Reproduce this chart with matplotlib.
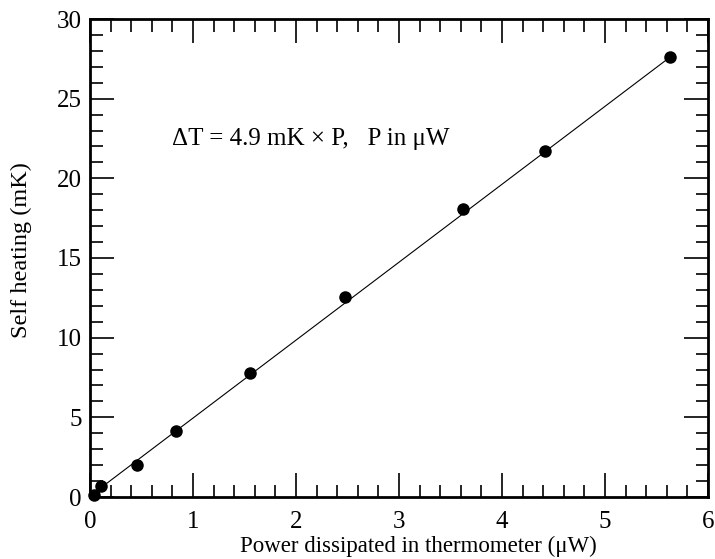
import matplotlib
matplotlib.use("Agg")
import matplotlib.pyplot as plt
from matplotlib.ticker import MultipleLocator

power = [0.04, 0.11, 0.456, 0.838, 1.553, 2.48, 3.62, 4.42, 5.63]
heating = [0.13, 0.69, 2.03, 4.16, 7.80, 12.54, 18.08, 21.7, 27.6]
fit_x = [0.11, 5.63]
fit_y = [0.6, 27.6]

plt.rcParams['font.family'] = ['Liberation Serif', 'DejaVu Serif']
fig = plt.figure(figsize=(7.15, 5.59), dpi=100)
ax = fig.add_axes([90/715, 1-497/559, 618/715, 478/559])

ax.plot(fit_x, fit_y, color='black', lw=0.8)
ax.plot(power, heating, 'o', color='black', markersize=8, clip_on=False, zorder=3)

ax.set_xlim(0, 6)
ax.set_ylim(0, 30)
ax.xaxis.set_major_locator(MultipleLocator(1))
ax.xaxis.set_minor_locator(MultipleLocator(0.2))
ax.yaxis.set_major_locator(MultipleLocator(5))
ax.yaxis.set_minor_locator(MultipleLocator(1))
ax.tick_params(which='both', direction='in', top=True, right=True, width=1.2, labelsize=18)
ax.tick_params(axis='x', which='both', pad=10)
ax.tick_params(axis='y', which='both', pad=6)
ax.tick_params(which='major', length=17)
ax.tick_params(which='minor', length=9)
for s in ax.spines.values():
    s.set_linewidth(2)

ax.set_xlabel('Power dissipated in thermometer (μW)', fontsize=16.5)
ax.xaxis.set_label_coords(0.531, -0.0816)
ax.set_ylabel('Self heating (mK)', fontsize=17.5)
ax.yaxis.set_label_coords(-0.094, 0.517)
ax.text(0.80, 22.1, 'ΔT = 4.9 mK × P,   P in μW', fontsize=18, va='baseline', ha='left')

fig.savefig('out.png', dpi=100)
